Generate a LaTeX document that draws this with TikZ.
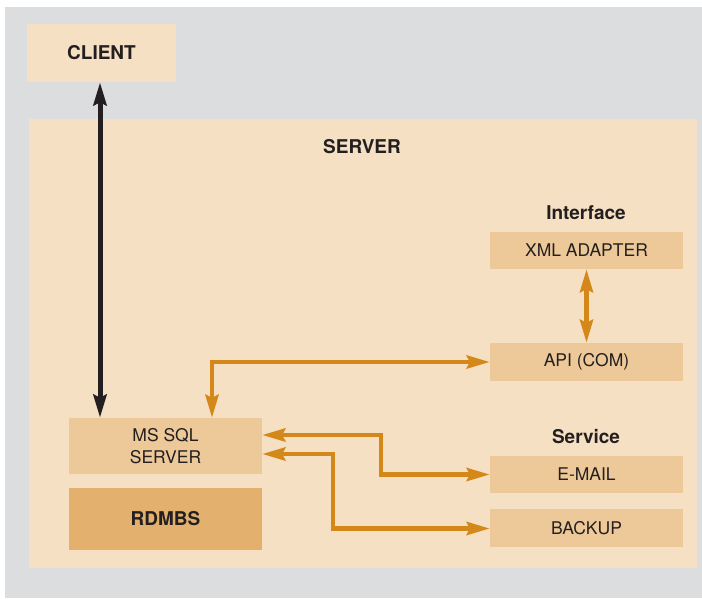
\documentclass[tikz,border=0pt]{standalone}
\usepackage{fontspec}
\setmainfont{TeX Gyre Heros}
\usetikzlibrary{arrows.meta}
\definecolor{bggray}{HTML}{DCDDDF}
\definecolor{serverfill}{HTML}{F6E0C3}
\definecolor{boxfill}{HTML}{EDC898}
\definecolor{dbfill}{HTML}{E4B06E}
\definecolor{linkorange}{HTML}{D4881A}
\definecolor{inkdark}{HTML}{231F20}
\tikzset{
  box/.style={fill=boxfill,draw=none,minimum width=193pt,inner sep=0pt,
    text=inkdark,font=\fontsize{17.5}{22}\selectfont,align=center},
  heading/.style={text=inkdark,font=\fontsize{19}{22}\selectfont\bfseries},
  link/.style={linkorange,line width=4.5pt},
}
\begin{document}
\begin{tikzpicture}[x=1pt,y=-1pt,>={Stealth[length=23pt,width=13pt,inset=3pt]},line join=miter]

 \useasboundingbox (0,0) rectangle (702,598);
 \fill [white] (0,0) rectangle (702,598);
 \fill [bggray] (5,7) rectangle (702,598);

 \node (node_client) at (101.5,53) [fill=serverfill,minimum width=149pt,minimum height=58pt,heading] {CLIENT};
 \node (node_server) at (363,343.5) [fill=serverfill,minimum width=668pt,minimum height=449pt] {};
 \node (node_server_label) at (362,147) [heading] {SERVER};

 \node (node_mssql) at (165.5,446) [box,minimum height=56pt] {MS SQL\\SERVER};
 \node (node_rdmbs) at (165.5,519) [box,fill=dbfill,minimum height=62pt,heading] {RDMBS};

 \node (node_interface) at (586,213) [heading] {Interface};
 \node (node_xml) at (586.5,250.5) [box,minimum height=37pt] {XML ADAPTER};
 \node (node_api) at (586.5,362) [box,minimum height=38pt] {API (COM)};

 \node (node_service) at (586,437) [heading] {Service};
 \node (node_email) at (586.5,474.5) [box,minimum height=37pt] {E-MAIL};
 \node (node_backup) at (586.5,528) [box,minimum height=38pt] {BACKUP};

  \draw [inkdark,line width=5pt,<->] ([xshift=-1.5pt]node_client.south) -- ([xshift=-1.5pt]node_client.south |- node_mssql.north);
  \draw [link,<->] (node_xml) -- (node_api);
  \draw [link,<->] ([xshift=46.5pt]node_mssql.north) |- (node_api.west);
  \draw [link,<->] ([yshift=11pt]node_mssql.east) -- ++(119,0) |- (node_email.west);
  \draw [link,<->] ([yshift=-8pt]node_mssql.east) -- ++(71,0) |- ([yshift=-0.5pt]node_backup.west);

\end{tikzpicture}
\end{document}
